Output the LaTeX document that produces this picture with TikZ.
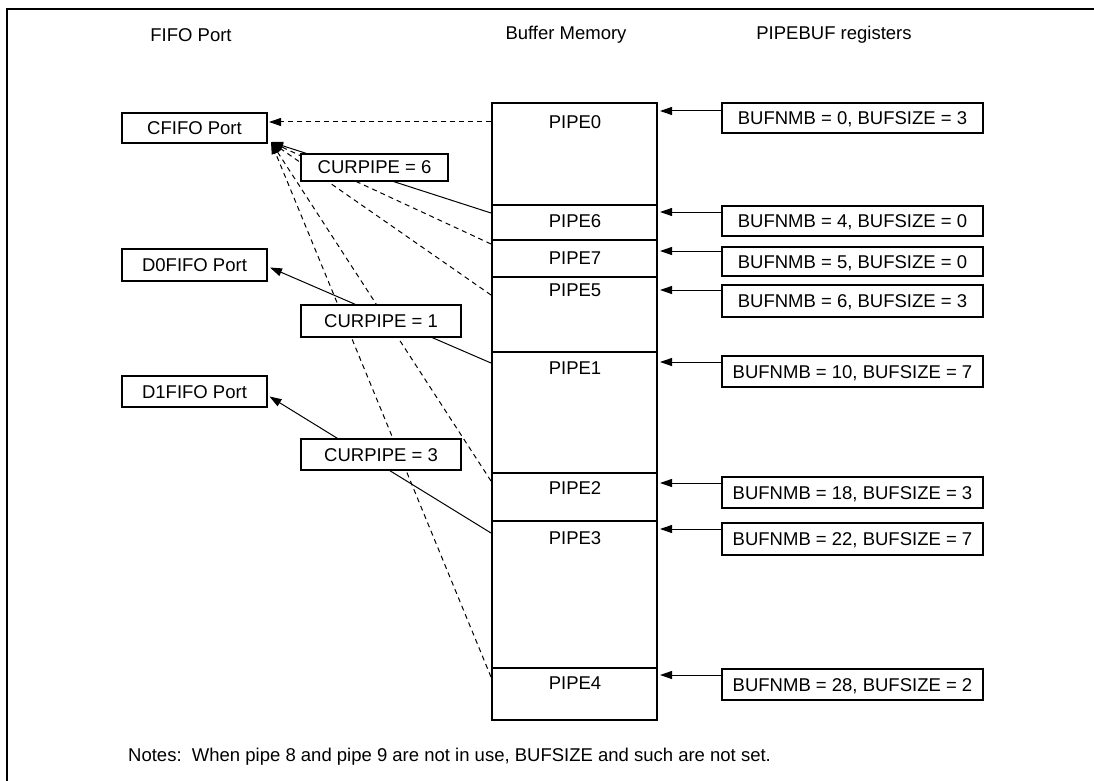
\documentclass[tikz,border=0pt]{standalone}
\usepackage{fontspec}
\setmainfont{Liberation Sans}
\usetikzlibrary{arrows.meta}
\begin{document}
\begin{tikzpicture}[x=1pt,y=-1pt,
  every node/.style={font=\fontsize{18.5}{22}\selectfont, inner sep=0pt},
  box/.style={draw, line width=2pt, minimum height=31pt, text height=13pt, text depth=0pt, fill=white},
  portbox/.style={box, minimum width=145pt},
  regbox/.style={box, minimum width=261pt},
  sect/.style={draw, line width=2pt, minimum width=165pt},
  conn/.style={line width=1pt},
  dsh/.style={conn, dash pattern=on 5pt off 4pt},
  tip/.style={-{Triangle[length=12pt,width=8pt]}}
]
\useasboundingbox (0,0) rectangle (1094,781);
\draw[line width=1.8pt] (6.8,781) -- (6.8,8.7) -- (1094,8.7);

% titles
\node (t1) at (191,35) {FIFO Port};
\node (t2) at (566,35) {Buffer Memory};
\node (t3) at (834,35) {PIPEBUF registers};

% FIFO ports
\node[portbox, minimum height=30pt] (cfifo) at (194.5,128) {CFIFO Port};
\node[portbox, minimum height=32pt] (d0fifo) at (194.5,265) {D0FIFO Port};
\node[portbox] (d1fifo) at (194.5,391.5) {D1FIFO Port};

% buffer memory sections
\node[sect, minimum height=102pt] (p0) at (574.5,154) {};
\node[sect, minimum height=35pt] (p6) at (574.5,222.5) {};
\node[sect, minimum height=37pt] (p7) at (574.5,258.5) {};
\node[sect, minimum height=75pt] (p5) at (574.5,314.5) {};
\node[sect, minimum height=121pt] (p1) at (574.5,412.5) {};
\node[sect, minimum height=48pt] (p2) at (574.5,497) {};
\node[sect, minimum height=147pt] (p3) at (574.5,594.5) {};
\node[sect, minimum height=52pt] (p4) at (574.5,694) {};

\node (l0) at (575,122) {PIPE0};
\node (l6) at (575,221) {PIPE6};
\node (l7) at (575,258) {PIPE7};
\node (l5) at (575,290) {PIPE5};
\node (l1) at (575,368) {PIPE1};
\node (l2) at (575,488) {PIPE2};
\node (l3) at (575,538) {PIPE3};
\node (l4) at (575,683) {PIPE4};

% registers
\node[regbox, minimum height=30pt] (r0) at (852.5,118) {BUFNMB = 0, BUFSIZE = 3};
\node[regbox, minimum height=30pt] (r6) at (852.5,221) {BUFNMB = 4, BUFSIZE = 0};
\node[regbox, minimum height=29pt] (r7) at (852.5,261.5) {BUFNMB = 5, BUFSIZE = 0};
\node[regbox, minimum height=32pt] (r5) at (852.5,301) {BUFNMB = 6, BUFSIZE = 3};
\node[regbox] (r1) at (852.5,371.5) {BUFNMB = 10, BUFSIZE = 7};
\node[regbox] (r2) at (852.5,492.5) {BUFNMB = 18, BUFSIZE = 3};
\node[regbox, minimum height=32pt] (r3) at (852.5,539) {BUFNMB = 22, BUFSIZE = 7};
\node[regbox] (r4) at (852.5,684.5) {BUFNMB = 28, BUFSIZE = 2};

% register arrows
\draw[conn,tip] (r0.west |- 0,111) -- ([xshift=2pt]p0.east |- 0,111);
\draw[conn,tip] (r6.west |- 0,212) -- ([xshift=2pt]p6.east |- 0,212);
\draw[conn,tip] (r7.west |- 0,251) -- ([xshift=2pt]p7.east |- 0,251);
\draw[conn,tip] (r5.west |- 0,290) -- ([xshift=2pt]p5.east |- 0,290);
\draw[conn,tip] (r1.west |- 0,362) -- ([xshift=2pt]p1.east |- 0,362);
\draw[conn,tip] (r2.west |- 0,483) -- ([xshift=2pt]p2.east |- 0,483);
\draw[conn,tip] (r3.west |- 0,529) -- ([xshift=2pt]p3.east |- 0,529);
\draw[conn,tip] (r4.west |- 0,675) -- ([xshift=2pt]p4.east |- 0,675);

% connectors to FIFO ports
\coordinate (cfc) at ([xshift=3pt,yshift=2pt]cfifo.south east);
\draw[dsh,tip] (p0.west |- 0,122) -- ([xshift=1pt]cfifo.east |- 0,122);
\draw[conn,tip] (p6.west |- 0,213) -- (cfc);
\draw[dsh,tip] (p7.west |- 0,244) -- (cfc);
\draw[dsh,tip] (p5.west |- 0,295) -- (cfc);
\draw[dsh,tip] (p2.west |- 0,481) -- (cfc);
\draw[dsh,tip] (p4.west |- 0,677) -- (cfc);
\draw[conn,tip] (p1.west |- 0,363) -- ([xshift=2pt,yshift=-2.5pt]d0fifo.east);
\draw[conn,tip] (p3.west |- 0,533) -- ([xshift=1.5pt,yshift=-5pt]d1fifo.east);

% CURPIPE boxes
\node[box, minimum width=147pt, minimum height=27pt] (cur6) at (374.5,167) {CURPIPE = 6};
\node[box, minimum width=160pt, minimum height=32pt] (cur1) at (381,321) {CURPIPE = 1};
\node[box, minimum width=160pt] (cur3) at (381,454.5) {CURPIPE = 3};

% notes
\node[anchor=west] (notes) at (128,757) {Notes:\ \ When pipe 8 and pipe 9 are not in use, BUFSIZE and such are not set.};
\end{tikzpicture}
\end{document}
